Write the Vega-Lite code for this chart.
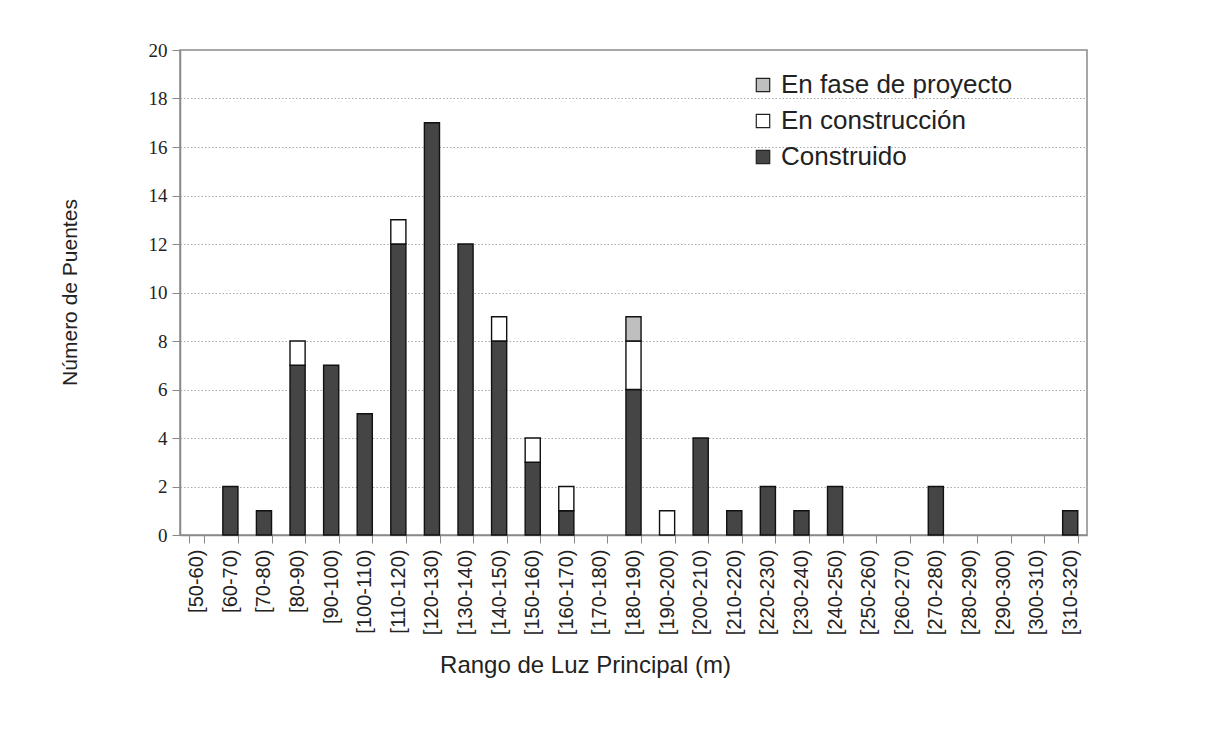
{
  "$schema": "https://vega.github.io/schema/vega-lite/v6.json",
  "width": 907,
  "height": 485,
  "autosize": {"type": "none"},
  "padding": {"left": 180, "top": 50, "right": 118, "bottom": 196},
  "background": "white",
  "config": {
    "view": {"stroke": "#8a8a8a", "strokeWidth": 1.5},
    "font": "Liberation Sans"
  },
  "data": {
    "values": [
      {"rango": "[60-70)", "estado": "Construido", "n": 2, "k": 1},
      {"rango": "[70-80)", "estado": "Construido", "n": 1, "k": 1},
      {"rango": "[80-90)", "estado": "Construido", "n": 7, "k": 1},
      {"rango": "[80-90)", "estado": "En construcción", "n": 1, "k": 2},
      {"rango": "[90-100)", "estado": "Construido", "n": 7, "k": 1},
      {"rango": "[100-110)", "estado": "Construido", "n": 5, "k": 1},
      {"rango": "[110-120)", "estado": "Construido", "n": 12, "k": 1},
      {"rango": "[110-120)", "estado": "En construcción", "n": 1, "k": 2},
      {"rango": "[120-130)", "estado": "Construido", "n": 17, "k": 1},
      {"rango": "[130-140)", "estado": "Construido", "n": 12, "k": 1},
      {"rango": "[140-150)", "estado": "Construido", "n": 8, "k": 1},
      {"rango": "[140-150)", "estado": "En construcción", "n": 1, "k": 2},
      {"rango": "[150-160)", "estado": "Construido", "n": 3, "k": 1},
      {"rango": "[150-160)", "estado": "En construcción", "n": 1, "k": 2},
      {"rango": "[160-170)", "estado": "Construido", "n": 1, "k": 1},
      {"rango": "[160-170)", "estado": "En construcción", "n": 1, "k": 2},
      {"rango": "[180-190)", "estado": "Construido", "n": 6, "k": 1},
      {"rango": "[180-190)", "estado": "En construcción", "n": 2, "k": 2},
      {"rango": "[180-190)", "estado": "En fase de proyecto", "n": 1, "k": 3},
      {"rango": "[190-200)", "estado": "En construcción", "n": 1, "k": 2},
      {"rango": "[200-210)", "estado": "Construido", "n": 4, "k": 1},
      {"rango": "[210-220)", "estado": "Construido", "n": 1, "k": 1},
      {"rango": "[220-230)", "estado": "Construido", "n": 2, "k": 1},
      {"rango": "[230-240)", "estado": "Construido", "n": 1, "k": 1},
      {"rango": "[240-250)", "estado": "Construido", "n": 2, "k": 1},
      {"rango": "[270-280)", "estado": "Construido", "n": 2, "k": 1},
      {"rango": "[310-320)", "estado": "Construido", "n": 1, "k": 1}
    ]
  },
  "mark": {"type": "bar", "stroke": "#111111", "strokeWidth": 1.4},
  "encoding": {
    "x": {
      "field": "rango",
      "type": "nominal",
      "sort": null,
      "scale": {
        "domain": ["[50-60)", "[60-70)", "[70-80)", "[80-90)", "[90-100)", "[100-110)", "[110-120)", "[120-130)", "[130-140)", "[140-150)", "[150-160)", "[160-170)", "[170-180)", "[180-190)", "[190-200)", "[200-210)", "[210-220)", "[220-230)", "[230-240)", "[240-250)", "[250-260)", "[260-270)", "[270-280)", "[280-290)", "[290-300)", "[300-310)", "[310-320)"],
        "paddingInner": 0.55,
        "paddingOuter": 0.275
      },
      "axis": {
        "title": "Rango de Luz Principal (m)",
        "titleFont": "Liberation Sans",
        "titleFontSize": 24,
        "titleFontWeight": "normal",
        "titleColor": "#222222",
        "titleX": 405,
        "titleY": 130,
        "titleBaseline": "middle",
        "labelAngle": -90,
        "labelAlign": "right",
        "labelBaseline": "middle",
        "labelFont": "Liberation Sans",
        "labelFontSize": 20,
        "labelColor": "#222222",
        "labelPadding": 6,
        "tickBand": "extent",
        "tickSize": 8,
        "tickColor": "#8a8a8a",
        "domainColor": "#8a8a8a",
        "domainWidth": 1.5,
        "grid": false
      }
    },
    "y": {
      "field": "n",
      "type": "quantitative",
      "stack": "zero",
      "scale": {"domain": [0, 20]},
      "axis": {
        "title": "Número de Puentes",
        "titleFont": "Liberation Sans",
        "titleFontSize": 21,
        "titleFontWeight": "normal",
        "titleColor": "#222222",
        "titleX": -110,
        "titleY": 242,
        "titleAnchor": "middle",
        "titleAlign": "center",
        "titleBaseline": "middle",
        "values": [0, 2, 4, 6, 8, 10, 12, 14, 16, 18, 20],
        "labelFont": "Liberation Serif",
        "labelFontSize": 19,
        "labelColor": "#222222",
        "labelPadding": 5,
        "tickSize": 8,
        "tickColor": "#8a8a8a",
        "domainColor": "#8a8a8a",
        "domainWidth": 1.5,
        "grid": true,
        "gridColor": "#aaaaaa",
        "gridDash": [1.5, 2],
        "gridWidth": 1
      }
    },
    "color": {
      "field": "estado",
      "type": "nominal",
      "scale": {
        "domain": ["En fase de proyecto", "En construcción", "Construido"],
        "range": ["#bfbfbf", "#ffffff", "#454545"]
      },
      "legend": {
        "title": null,
        "orient": "none",
        "legendX": 570,
        "legendY": 22,
        "symbolType": "square",
        "symbolSize": 180,
        "symbolStrokeColor": "#222222",
        "symbolStrokeWidth": 1.2,
        "symbolOpacity": 1,
        "labelFont": "Liberation Sans",
        "labelFontSize": 26,
        "labelColor": "#222222",
        "labelOffset": 5,
        "rowPadding": 10,
        "labelLimit": 400
      }
    },
    "order": {"field": "k", "type": "quantitative"}
  }
}
